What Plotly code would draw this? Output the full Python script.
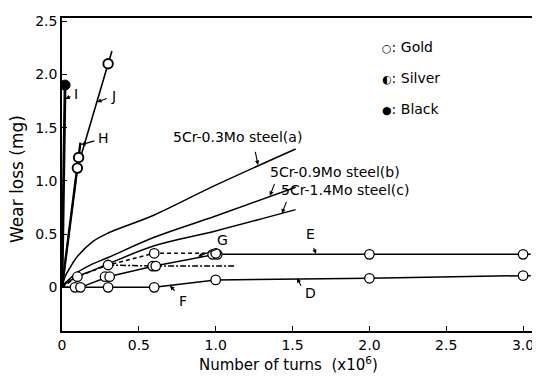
import plotly.graph_objects as go

# ---------------- data ----------------
x_ticks = [0, 0.5, 1.0, 1.5, 2.0, 2.5, 3.0]
x_ticktext = ["0", "0.5", "1.0", "1.5", "2.0", "2.5", "3.0"]
y_ticks = [0, 0.5, 1.0, 1.5, 2.0, 2.5]
y_ticktext = ["0", "0.5", "1.0", "1.5", "2.0", "2.5"]

# 5Cr-Mo steel curves (no markers)
steel_x = [0, 0.02, 0.05, 0.1, 0.2, 0.3, 0.6, 1.0, 1.52]
steel_a = [0, 0.10, 0.18, 0.29, 0.43, 0.51, 0.68, 0.96, 1.30]
steel_b = [0, 0.04, 0.08, 0.14, 0.22, 0.28, 0.47, 0.67, 0.94]
steel_c = [0, 0.03, 0.06, 0.10, 0.16, 0.22, 0.39, 0.53, 0.73]

# Black (I)
i_line_x = [0, 0.02]
i_line_y = [0, 1.9]
black_pts_x = [0.02]
black_pts_y = [1.9]

# Silver (H, J)
h_line_x = [0, 0.1, 0.108, 0.12]
h_line_y = [0, 1.12, 1.22, 1.36]
j_line_x = [0, 0.1, 0.3, 0.325]
j_line_y = [0, 1.12, 2.1, 2.22]
silver_pts_x = [0.1, 0.108, 0.3]
silver_pts_y = [1.12, 1.22, 2.1]

# Gold curves
e_line_x = [0, 0.12, 0.3, 0.6, 1.0, 2.0, 3.0, 3.05]
e_line_y = [0, 0, 0.1, 0.2, 0.31, 0.31, 0.31, 0.31]
g_line_x = [0, 0.1, 0.3, 0.6, 1.0]
g_line_y = [0, 0.1, 0.21, 0.32, 0.32]
dd_line_x = [0.3, 0.6, 1.0, 1.13]
dd_line_y = [0.21, 0.2, 0.2, 0.2]
d_line_x = [0, 0.085, 0.3, 0.6, 1.0, 2.0, 3.0, 3.05]
d_line_y = [0, 0, 0, 0, 0.07, 0.085, 0.11, 0.11]

gold_pts_x = [0.085, 0.12, 0.3, 0.6, 1.0, 2.0, 3.0,
              0.28, 0.31, 0.59, 0.61, 0.98, 1.01, 2.0, 3.0,
              0.1, 0.3, 0.6, 1.0]
gold_pts_y = [0, 0, 0, 0, 0.07, 0.085, 0.11,
              0.1, 0.1, 0.2, 0.2, 0.31, 0.31, 0.31, 0.31,
              0.1, 0.21, 0.32, 0.32]

# curve labels (text, x, y)
labels = [
    ("I", 0.091, 1.82),
    ("J", 0.335, 1.80),
    ("H", 0.267, 1.40),
    ("5Cr-0.3Mo steel(a)", 1.139, 1.408),
    ("5Cr-0.9Mo steel(b)", 1.776, 1.08),
    ("5Cr-1.4Mo steel(c)", 1.84, 0.91),
    ("G", 1.041, 0.441),
    ("E", 1.62, 0.50),
    ("D", 1.614, -0.056),
    ("F", 0.787, -0.131),
]
# leader arrows (tail x, tail y, tip x, tip y)
leaders = [
    (0.065, 1.80, 0.022, 1.77),
    (0.30, 1.78, 0.228, 1.74),
    (0.221, 1.38, 0.125, 1.34),
    (1.256, 1.286, 1.275, 1.15),
    (1.386, 0.986, 1.353, 0.86),
    (1.464, 0.817, 1.431, 0.695),
    (1.021, 0.366, 0.885, 0.29),
    (1.633, 0.385, 1.653, 0.315),
    (1.561, 0.0, 1.529, 0.085),
    (0.742, -0.047, 0.703, 0.015),
]
legend_items = [("○", "Gold", 2.254), ("◐", "Silver", 1.962), ("●", "Black", 1.671)]

FONT = "DejaVu Sans"
LW = 1.5

fig = go.Figure()

def line(x, y, width=LW, dash="solid", shape="linear"):
    fig.add_trace(go.Scatter(x=x, y=y, mode="lines", showlegend=False,
                             line=dict(color="black", width=width, dash=dash, shape=shape)))

line(steel_x, steel_a, shape="spline")
line(steel_x, steel_b, shape="spline")
line(steel_x, steel_c, shape="spline")
line(i_line_x, i_line_y, width=2.8)
line(h_line_x, h_line_y, width=2.4)
line(j_line_x, j_line_y, width=1.6)
line(e_line_x, e_line_y)
line(g_line_x, g_line_y, dash="4px,3px")
line(dd_line_x, dd_line_y, dash="6px,2px,2px,2px")
line(d_line_x, d_line_y)

fig.add_trace(go.Scatter(x=gold_pts_x, y=gold_pts_y, mode="markers", showlegend=False,
                         marker=dict(symbol="circle", size=9.5, color="white",
                                     line=dict(color="black", width=1.3))))
fig.add_trace(go.Scatter(x=silver_pts_x, y=silver_pts_y, mode="markers", showlegend=False,
                         marker=dict(symbol="circle", size=9.5, color="white",
                                     line=dict(color="black", width=1.9))))
fig.add_trace(go.Scatter(x=black_pts_x, y=black_pts_y, mode="markers", showlegend=False,
                         marker=dict(symbol="circle", size=10, color="black",
                                     line=dict(color="black", width=1))))

ann = []
for t, x, y in labels:
    ann.append(dict(text=t, x=x, y=y, xref="x", yref="y", showarrow=False,
                    xanchor="center", yanchor="middle",
                    font=dict(family=FONT, size=14, color="black")))
for tx, ty, hx, hy in leaders:
    ann.append(dict(text="", x=hx, y=hy, ax=tx, ay=ty, xref="x", yref="y",
                    axref="x", ayref="y", showarrow=True, arrowhead=2,
                    arrowsize=0.8, arrowwidth=1.1, arrowcolor="black", standoff=0))
for sym, name, y in legend_items:
    ann.append(dict(text=f"<span style='font-size:11px'>{sym}</span>: {name}",
                    x=2.07, y=y, xref="x", yref="y", xanchor="left", yanchor="middle",
                    showarrow=False, font=dict(family=FONT, size=14, color="black")))
ann.append(dict(text="Wear loss (mg)", x=-0.094, y=0.486, xref="paper", yref="paper",
                xanchor="center", yanchor="middle",
                textangle=-90, showarrow=False, font=dict(family=FONT, size=17, color="black")))
ann.append(dict(text="Number of turns\u00a0\u00a0(x10<sup>6</sup>)", x=0.473, y=-0.104,
                xref="paper", yref="paper", xanchor="center", yanchor="middle", showarrow=False,
                font=dict(family=FONT, size=15, color="black")))

# page body has an 8px margin: shrink the figure by that amount so the plot lands in place
fig.update_layout(
    width=532, height=368,
    margin=dict(l=54, r=0, t=10, b=45),
    paper_bgcolor="white", plot_bgcolor="white",
    annotations=ann,
    xaxis=dict(range=[0, 3.11], showline=True, linecolor="black", linewidth=1.6, mirror=True,
               ticks="inside", ticklen=5, tickwidth=1.3, tickcolor="black", automargin=False,
               tickvals=x_ticks, ticktext=x_ticktext, showgrid=False, zeroline=False,
               tickfont=dict(family=FONT, size=14, color="black")),
    yaxis=dict(range=[-0.41, 2.53], showline=True, linecolor="black", linewidth=1.6,
               ticks="inside", ticklen=5, tickwidth=1.3, tickcolor="black", automargin=False,
               tickvals=y_ticks, ticktext=y_ticktext, showgrid=False, zeroline=False,
               tickfont=dict(family=FONT, size=14, color="black")),
)

fig.write_html("out.html")
